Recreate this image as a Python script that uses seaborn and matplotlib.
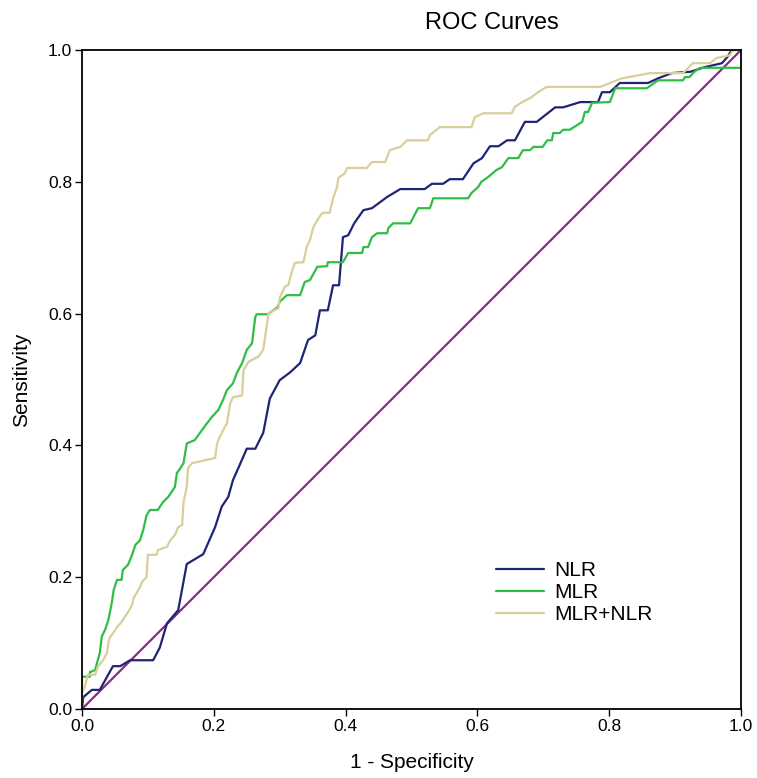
import pandas as pd
import matplotlib.pyplot as plt
import seaborn as sns
from matplotlib.lines import Line2D

# pontos (1 - especificidade, sensibilidade)
nlr_x = [0, 0.002, 0.015, 0.027, 0.047, 0.058, 0.073, 0.108, 0.118, 0.129, 0.146, 0.159, 0.184,
         0.202, 0.212, 0.222, 0.229, 0.244, 0.25, 0.263, 0.275, 0.285, 0.30, 0.316, 0.331, 0.343,
         0.354, 0.361, 0.373, 0.381, 0.39, 0.396, 0.404, 0.413, 0.427, 0.44, 0.463, 0.483, 0.52,
         0.531, 0.548, 0.558, 0.578, 0.594, 0.607, 0.619, 0.632, 0.645, 0.657, 0.672, 0.69, 0.718,
         0.73, 0.756, 0.783, 0.789, 0.801, 0.816, 0.832, 0.859, 0.874, 0.895, 0.923, 0.945, 0.971,
         0.979, 0.986, 1.0]
nlr_y = [0, 0.018, 0.029, 0.029, 0.065, 0.065, 0.074, 0.074, 0.093, 0.13, 0.15, 0.22, 0.235,
         0.276, 0.307, 0.322, 0.347, 0.381, 0.395, 0.395, 0.419, 0.471, 0.499, 0.511, 0.525, 0.56,
         0.567, 0.605, 0.605, 0.643, 0.643, 0.716, 0.719, 0.737, 0.757, 0.76, 0.777, 0.789, 0.789,
         0.797, 0.797, 0.804, 0.804, 0.828, 0.836, 0.854, 0.854, 0.863, 0.863, 0.891, 0.891, 0.913,
         0.913, 0.921, 0.921, 0.936, 0.936, 0.95, 0.95, 0.95, 0.957, 0.965, 0.967, 0.974, 0.98,
         0.989, 1.0, 1.0]

mlr_x = [0, 0, 0.012, 0.012, 0.02, 0.022, 0.027, 0.03, 0.035, 0.04, 0.045, 0.048, 0.053, 0.06,
         0.062, 0.07, 0.076, 0.081, 0.088, 0.093, 0.098, 0.103, 0.115, 0.123, 0.131, 0.141, 0.144,
         0.149, 0.154, 0.159, 0.171, 0.179, 0.19, 0.197, 0.207, 0.214, 0.22, 0.229, 0.235, 0.243,
         0.25, 0.258, 0.263, 0.265, 0.282, 0.297, 0.3, 0.311, 0.331, 0.338, 0.346, 0.357, 0.372,
         0.373, 0.396, 0.404, 0.425, 0.427, 0.434, 0.44, 0.448, 0.463, 0.465, 0.472, 0.498, 0.51,
         0.528, 0.533, 0.586, 0.591, 0.601, 0.606, 0.616, 0.629, 0.637, 0.647, 0.662, 0.669, 0.68,
         0.685, 0.699, 0.706, 0.713, 0.715, 0.725, 0.73, 0.74, 0.745, 0.759, 0.763, 0.768, 0.774,
         0.801, 0.809, 0.857, 0.874, 0.912, 0.915, 0.922, 0.927, 0.933, 0.938, 1.0]
mlr_y = [0, 0.049, 0.049, 0.056, 0.059, 0.067, 0.085, 0.11, 0.12, 0.135, 0.16, 0.18, 0.196, 0.196,
         0.211, 0.219, 0.234, 0.249, 0.256, 0.272, 0.294, 0.302, 0.302, 0.314, 0.322, 0.337, 0.358,
         0.365, 0.373, 0.403, 0.408, 0.419, 0.434, 0.443, 0.454, 0.469, 0.484, 0.494, 0.51, 0.525,
         0.545, 0.555, 0.595, 0.599, 0.599, 0.61, 0.618, 0.628, 0.628, 0.648, 0.651, 0.671, 0.672,
         0.678, 0.678, 0.692, 0.692, 0.701, 0.701, 0.716, 0.722, 0.722, 0.73, 0.737, 0.737, 0.76,
         0.76, 0.775, 0.775, 0.783, 0.792, 0.8, 0.807, 0.818, 0.822, 0.836, 0.836, 0.848, 0.848,
         0.853, 0.853, 0.863, 0.863, 0.874, 0.874, 0.879, 0.879, 0.882, 0.891, 0.906, 0.906, 0.92,
         0.921, 0.942, 0.942, 0.954, 0.954, 0.959, 0.959, 0.965, 0.97, 0.973, 0.973]

comb_x = [0, 0, 0.004, 0.009, 0.02, 0.024, 0.032, 0.038, 0.04, 0.042, 0.047, 0.053, 0.06, 0.065,
          0.07, 0.076, 0.078, 0.083, 0.088, 0.091, 0.098, 0.1, 0.113, 0.115, 0.129, 0.134, 0.141,
          0.146, 0.152, 0.154, 0.159, 0.161, 0.167, 0.202, 0.205, 0.209, 0.22, 0.225, 0.229, 0.243,
          0.245, 0.253, 0.268, 0.275, 0.281, 0.283, 0.298, 0.3, 0.308, 0.313, 0.318, 0.323, 0.336,
          0.341, 0.346, 0.351, 0.359, 0.365, 0.376, 0.381, 0.387, 0.389, 0.399, 0.402, 0.432, 0.44,
          0.46, 0.467, 0.483, 0.493, 0.525, 0.528, 0.543, 0.591, 0.596, 0.609, 0.652, 0.657, 0.668,
          0.68, 0.692, 0.705, 0.786, 0.819, 0.862, 0.912, 0.927, 0.953, 0.963, 0.983, 0.988, 1.0]
comb_y = [0, 0.024, 0.033, 0.052, 0.052, 0.064, 0.074, 0.085, 0.1, 0.108, 0.115, 0.124, 0.132,
          0.14, 0.147, 0.158, 0.168, 0.176, 0.185, 0.193, 0.2, 0.234, 0.234, 0.241, 0.246, 0.256,
          0.264, 0.276, 0.279, 0.313, 0.337, 0.366, 0.373, 0.381, 0.403, 0.413, 0.434, 0.464, 0.473,
          0.476, 0.514, 0.527, 0.535, 0.545, 0.586, 0.601, 0.608, 0.624, 0.641, 0.643, 0.662, 0.677,
          0.678, 0.701, 0.712, 0.731, 0.745, 0.753, 0.753, 0.775, 0.792, 0.806, 0.813, 0.821, 0.821,
          0.83, 0.83, 0.848, 0.853, 0.863, 0.863, 0.871, 0.883, 0.883, 0.898, 0.904, 0.904, 0.914,
          0.921, 0.927, 0.936, 0.944, 0.944, 0.957, 0.965, 0.965, 0.98, 0.98, 0.988, 0.992, 1.0, 1.0]

ref_x = [0, 1]
ref_y = [0, 1]

df = pd.concat([
    pd.DataFrame({'x': nlr_x, 'y': nlr_y, 'curva': 'NLR'}),
    pd.DataFrame({'x': mlr_x, 'y': mlr_y, 'curva': 'MLR'}),
    pd.DataFrame({'x': comb_x, 'y': comb_y, 'curva': 'MLR+NLR'}),
    pd.DataFrame({'x': ref_x, 'y': ref_y, 'curva': 'Referência'}),
], ignore_index=True)

cores = {'NLR': '#1f2474', 'MLR': '#2fbe45', 'MLR+NLR': '#d8cf9a', 'Referência': '#8c2a8a'}

sns.set_style('white')
plt.rcParams['font.family'] = ['Liberation Sans', 'DejaVu Sans']
plt.rcParams['text.color'] = 'black'
plt.rcParams['axes.labelcolor'] = 'black'

fig = plt.figure(figsize=(7.57, 7.78), dpi=100)
ax = fig.add_axes([0.1083, 0.0887, 0.8706, 0.847])

sns.lineplot(data=df, x='x', y='y', hue='curva', estimator=None, sort=False,
             palette=cores, linewidth=1.6, ax=ax, legend=False,
             hue_order=['Referência', 'NLR', 'MLR', 'MLR+NLR'])

ax.set_xlim(0, 1)
ax.set_ylim(0, 1)
ticks = [0.0, 0.2, 0.4, 0.6, 0.8, 1.0]
ax.set_xticks(ticks)
ax.set_yticks(ticks)
ax.set_xticklabels([f'{t:.1f}' for t in ticks])
ax.set_yticklabels([f'{t:.1f}' for t in ticks])
ax.tick_params(direction='out', length=5, width=1, colors='black', labelsize=12.5, pad=2,
               bottom=True, left=True)
for s in ax.spines.values():
    s.set_color('black')
    s.set_linewidth(1.3)

ax.set_xlabel('1 - Specificity', fontsize=15, labelpad=14, color='black')
ax.set_ylabel('Sensitivity', fontsize=15, labelpad=12, color='black')
fig.text(0.65, 0.97, 'ROC Curves', fontsize=17, ha='center', va='center', color='black')

handles = [Line2D([], [], color=cores[k], linewidth=1.6) for k in ['NLR', 'MLR', 'MLR+NLR']]
ax.legend(handles, ['NLR', 'MLR', 'MLR+NLR'], loc='lower left', bbox_to_anchor=(0.6, 0.1),
          frameon=False, fontsize=15, handlelength=2.3, handletextpad=0.5, labelspacing=0.15,
          labelcolor='black')

fig.savefig('out.png', dpi=100)
